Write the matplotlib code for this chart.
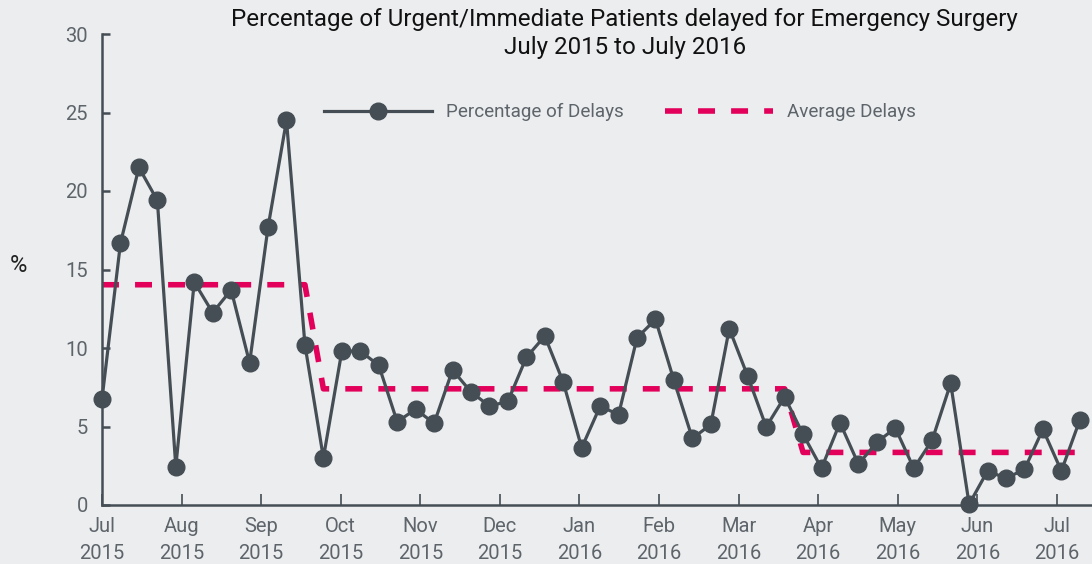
import numpy as np
import matplotlib
matplotlib.use("Agg")
import matplotlib.pyplot as plt

# ============================================================
# DATA
# ============================================================

delays = [
    6.75, 16.67, 21.5, 19.4, 2.44, 14.2, 12.25, 13.7, 9.06, 17.7, 24.5, 10.2,
    3.0, 9.8, 9.8, 8.9, 5.3, 6.1, 5.2, 8.6, 7.2, 6.3, 6.6, 9.4, 10.76, 7.83,
    3.64, 6.29, 5.76, 10.65, 11.82, 7.94, 4.24, 5.13, 11.23, 8.2, 4.98, 6.88,
    4.5, 2.34, 5.24, 2.6, 4.0, 4.9, 2.34, 4.14, 7.75, 0.05, 2.17, 1.7, 2.27,
    4.82, 2.17, 5.41,
]
average = [14.03] * 12 + [7.4] * 26 + [3.35] * 16

month_labels = [
    "Jul\n2015", "Aug\n2015", "Sep\n2015", "Oct\n2015", "Nov\n2015", "Dec\n2015",
    "Jan\n2016", "Feb\n2016", "Mar\n2016", "Apr\n2016", "May\n2016", "Jun\n2016",
    "Jul\n2016",
]
y_ticks = [0, 5, 10, 15, 20, 25, 30]

# ============================================================
# STYLE
# ============================================================

BG = "#ecedef"
DARK = "#454e55"
TICK_TXT = "#5d646a"
RED = "#e2005a"

plt.rcParams["font.family"] = ["Roboto", "DejaVu Sans"]

weeks = np.arange(len(delays))
month_pos = np.arange(len(month_labels)) * 4.313

fig = plt.figure(figsize=(10.92, 5.64), dpi=100, facecolor=BG)
ax = fig.add_axes([102 / 1092, 59 / 564, 990 / 1092, 471 / 564])
ax.set_facecolor(BG)

ax.plot(weeks, delays, color=DARK, lw=2.3, marker="o", markersize=12,
        label="Percentage of Delays", clip_on=False, zorder=3)
ax.plot(weeks, average, color=RED, lw=4, linestyle=(0, (3.05, 2.9)),
        dash_capstyle="butt", label="Average Delays", clip_on=False, zorder=2)

ax.set_xlim(0, 53.66)
ax.set_ylim(0, 30)

for side in ["top", "right"]:
    ax.spines[side].set_visible(False)
for side in ["left", "bottom"]:
    ax.spines[side].set_color(DARK)
    ax.spines[side].set_linewidth(1.8)

ax.set_yticks(y_ticks)
ax.set_xticks(month_pos)
ax.set_xticklabels(month_labels, linespacing=1.55)
ax.tick_params(axis="y", direction="in", length=5.5, width=1.8, color=DARK,
               labelsize=14.5, labelcolor=TICK_TXT, pad=10)
ax.tick_params(axis="x", direction="in", length=8, width=1.2, color=DARK,
               labelsize=14.5, labelcolor=TICK_TXT, pad=8.5)

fig.text(10 / 1092, 1 - 265 / 564, "%", fontsize=17, color="#222222",
         ha="left", va="center")

fig.text(0.572, 1 - 8 / 564,
         "Percentage of Urgent/Immediate Patients delayed for Emergency Surgery\nJuly 2015 to July 2016",
         ha="center", va="top", fontsize=17.4, color="#111111", linespacing=1.3)

leg = ax.legend(loc="center", bbox_to_anchor=(0.523, 0.834), ncol=2,
                frameon=False, handlelength=5.7, handletextpad=0.75,
                columnspacing=2.2, fontsize=13.6)
for t in leg.get_texts():
    t.set_color(TICK_TXT)

fig.savefig("out.png", dpi=100, facecolor=BG)
